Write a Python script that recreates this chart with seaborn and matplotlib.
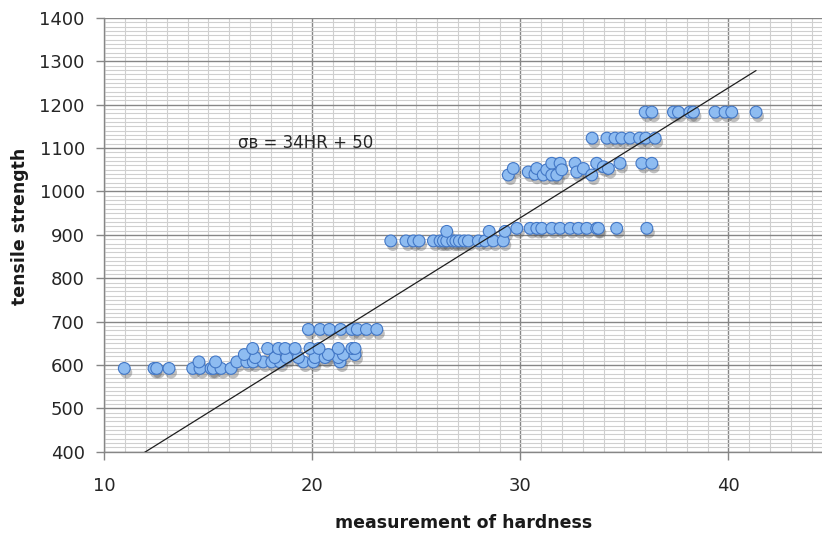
import numpy as np
import pandas as pd
import matplotlib
matplotlib.use("Agg")
import matplotlib.pyplot as plt
import matplotlib.patheffects as pe
from matplotlib.ticker import MultipleLocator
import seaborn as sns

# hardness (HR) and tensile strength readings, grouped by strength level
hardness = [
    10.96, 12.39, 12.52, 13.11, 14.25, 14.6, 15.13, 15.24, 15.61, 16.09,
    14.55, 15.35, 16.37, 16.85, 17.16, 17.64, 18.05, 18.45, 19.57, 20.05, 21.33,
    17.25, 18.2, 18.77, 19.33, 20.13, 20.61, 21.25,
    16.73, 20.77, 21.49, 22.05,
    17.13, 17.85, 18.37, 18.69, 19.17, 19.89, 20.32, 21.25, 21.9, 22.05,
    19.81, 20.37, 20.82, 21.36, 21.9, 22.16, 22.6, 23.1,
    23.77, 24.5, 24.86, 25.13, 25.82, 26.14, 26.3, 26.46, 26.75, 26.9, 27.07, 27.3, 27.5, 27.98, 28.3, 28.7, 29.18,
    26.46, 28.5, 29.26,
    29.83, 30.47, 30.79, 31.03, 31.51, 31.91, 32.39, 32.79, 33.19, 33.67, 33.75, 34.63, 36.08,
    29.42, 29.66, 30.38, 30.7, 30.79, 31.1, 31.27, 31.51, 31.51, 31.75, 31.91, 31.99,
    32.63, 32.71, 33.03, 33.43, 33.67, 33.99, 34.23, 34.79, 35.84, 36.32,
    33.45, 34.16, 34.55, 34.87, 35.27, 35.73, 36.03, 36.48,
    36.0, 36.32, 37.36, 37.6, 38.15, 38.32, 39.36, 39.84, 40.16, 41.33,
]
strength = [
    592] * 10 + [607] * 11 + [617] * 7 + [624] * 4 + [638] * 10 + [682] * 8 + [
    886] * 17 + [908] * 3 + [915] * 13 + [
    1038, 1053, 1045, 1040, 1053, 1038, 1050, 1065, 1038, 1038, 1065, 1050,
    1065, 1045, 1053, 1038, 1065, 1057, 1053, 1065, 1065, 1065,
] + [1123] * 8 + [1183] * 10

# trendline
trend_slope = 29.95
trend_intercept = 41.0
equation = "σв = 34HR + 50"

df = pd.DataFrame({"hardness": hardness, "strength": strength})
trend_x = np.array([min(hardness), max(hardness)])
trend = pd.DataFrame({"hardness": trend_x, "strength": trend_slope * trend_x + trend_intercept})

sns.set_style("white")
plt.rcParams["font.family"] = ["DejaVu Sans"]

fig = plt.figure(figsize=(8.22, 5.34), dpi=100)
ax = fig.add_axes([0.1269, 0.1541, 0.8731, 0.8122])

ax.set_xlim(10, 44.5)
ax.set_ylim(400, 1400)
ax.xaxis.set_major_locator(MultipleLocator(10))
ax.xaxis.set_minor_locator(MultipleLocator(1))
ax.yaxis.set_major_locator(MultipleLocator(100))
ax.yaxis.set_minor_locator(MultipleLocator(10))
ax.grid(which="minor", color="#cfcfcf", linewidth=0.8)
ax.grid(which="major", color="#868686", linewidth=1.0)
ax.set_axisbelow(True)

sns.lineplot(data=trend, x="hardness", y="strength", ax=ax, color="#1e1e1e", linewidth=0.9, zorder=3)
sns.scatterplot(data=df, x="hardness", y="strength", ax=ax, s=72, color="#8ebcf1",
                edgecolor="#4277c6", linewidth=0.8, zorder=2)
for coll in ax.collections:
    coll.set_path_effects([pe.SimplePatchShadow(offset=(1.5, -3), shadow_rgbFace="#4d4d4d", alpha=0.35),
                           pe.Normal()])

for s in ["top", "right"]:
    ax.spines[s].set_visible(False)
for s in ["left", "bottom"]:
    ax.spines[s].set_color("#868686")
    ax.spines[s].set_linewidth(1.0)

ax.tick_params(which="major", direction="out", length=6, width=1.0, color="#868686",
               labelsize=13, labelcolor="#262626", left=True, bottom=True)
ax.tick_params(axis="y", pad=8)
ax.tick_params(axis="x", pad=12)
ax.tick_params(which="minor", length=0)

ax.text(16.43, 1112, equation, fontsize=12, color="#262626", va="center", ha="left")

ax.set_xlabel("measurement of hardness", fontsize=12.5, fontweight="bold", color="#1a1a1a", labelpad=14)
ax.set_ylabel("tensile strength", fontsize=12.5, fontweight="bold", color="#1a1a1a", labelpad=10)
ax.yaxis.set_label_coords(-0.105, 0.52)

fig.savefig("out.png", dpi=100)
